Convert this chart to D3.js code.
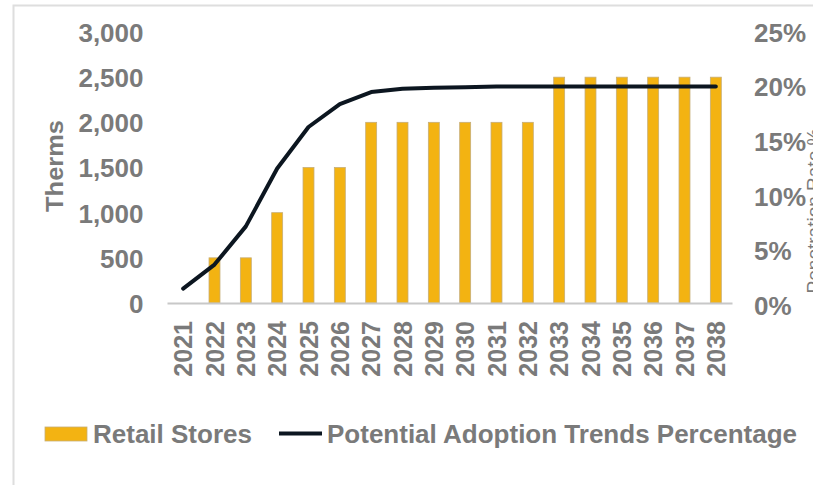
<!DOCTYPE html>
<html>
<head>
<meta charset="utf-8">
<script src="https://cdn.jsdelivr.net/npm/d3@7"></script>
<style>
  html, body { margin: 0; padding: 0; background: #fff; }
  svg { display: block; font-family: "Liberation Sans", Arial, sans-serif; font-weight: bold; }
</style>
</head>
<body>
<svg id="chart" width="813" height="485"></svg>
<script>
// Years on the category axis
const years = ["2021","2022","2023","2024","2025","2026","2027","2028","2029",
               "2030","2031","2032","2033","2034","2035","2036","2037","2038"];
// Retail Stores (therms)
const retailStores = [0, 500, 500, 1000, 1500, 1500, 2000, 2000, 2000,
                      2000, 2000, 2000, 2500, 2500, 2500, 2500, 2500, 2500];
// Potential Adoption Trends Percentage (%)
const adoptionPct = [1.5, 3.7, 7.2, 12.5, 16.3, 18.4, 19.5, 19.8, 19.9,
                     19.95, 20, 20, 20, 20, 20, 20, 20, 20];
// Axis ticks
const leftTicks = [0, 500, 1000, 1500, 2000, 2500, 3000];
const rightTicks = [0, 5, 10, 15, 20, 25];

const svg = d3.select("#chart");
const textColor = "#7a7a7a";
const barFill = "#F3B312";
const barStroke = "#c6ae78";
const lineColor = "#0c1620";

// frame
svg.append("path")
  .attr("d", "M13.5,485 L13.5,5.5 L813,5.5")
  .attr("fill", "none").attr("stroke", "#dedede").attr("stroke-width", 2);

const plot = { left: 167.5, right: 731.5, top: 32, bottom: 303 };

const x = d3.scaleBand().domain(years).range([plot.left, plot.right])
  .paddingInner(0.65).paddingOuter(0.325);
const yL = d3.scaleLinear().domain([0, 3000]).range([plot.bottom, plot.top]);
const yR = d3.scaleLinear().domain([0, 25]).range([plot.bottom + 2, plot.top]);

function styleLabels(sel, size) {
  sel.attr("fill", textColor)
    .style("font-size", size + "px").style("font-weight", "bold")
    .style("font-family", "Liberation Sans, Arial, sans-serif");
}

// bars
svg.append("g").selectAll("rect").data(years).join("rect")
  .attr("x", d => x(d))
  .attr("width", x.bandwidth())
  .attr("y", (d, i) => yL(retailStores[i]))
  .attr("height", (d, i) => yL(0) - yL(retailStores[i]))
  .attr("fill", barFill)
  .attr("stroke", barStroke)
  .attr("stroke-width", 0.8);

// category axis line
svg.append("line")
  .attr("x1", plot.left).attr("x2", plot.right + 1)
  .attr("y1", plot.bottom + 0.5).attr("y2", plot.bottom + 0.5)
  .attr("stroke", "#c8c8c8").attr("stroke-width", 2);

// category labels (vertical)
const xAxis = svg.append("g").attr("transform", `translate(0,${plot.bottom})`)
  .call(d3.axisBottom(x).tickSize(0).tickPadding(0));
xAxis.select(".domain").remove();
xAxis.selectAll("text")
  .attr("transform", "rotate(-90)")
  .attr("x", -18).attr("y", 0).attr("dy", "0.36em")
  .attr("text-anchor", "end")
  .call(styleLabels, 25);

// left value axis
const left = svg.append("g").attr("transform", `translate(${plot.left},0)`)
  .call(d3.axisLeft(yL).tickValues(leftTicks).tickSize(0).tickFormat(d3.format(",")));
left.select(".domain").remove();
left.selectAll("text")
  .attr("x", -24).attr("dy", "0.36em")
  .call(styleLabels, 26);

// right percentage axis
const right = svg.append("g").attr("transform", `translate(${plot.right},0)`)
  .call(d3.axisRight(yR).tickValues(rightTicks).tickSize(0).tickFormat(d => d + "%"));
right.select(".domain").remove();
right.selectAll("text")
  .attr("x", 22.5).attr("dy", "0.36em")
  .call(styleLabels, 26);

// axis titles
svg.append("text")
  .attr("transform", `translate(63,166) rotate(-90)`)
  .attr("text-anchor", "middle")
  .attr("fill", textColor)
  .attr("textLength", 92).attr("lengthAdjust", "spacingAndGlyphs")
  .style("font-size", "23px")
  .text("Therms");

svg.append("text")
  .attr("transform", `translate(820,211) rotate(-90)`)
  .attr("text-anchor", "middle")
  .attr("fill", textColor)
  .style("font-size", "19px")
  .style("font-weight", "normal")
  .text("Penetration Rate %");

// adoption line on the percentage scale
const line = d3.line()
  .x((d, i) => x(years[i]) + x.bandwidth() / 2)
  .y(d => yR(d));
svg.append("path")
  .datum(adoptionPct)
  .attr("d", line)
  .attr("fill", "none")
  .attr("stroke", lineColor)
  .attr("stroke-width", 4)
  .attr("stroke-linecap", "round")
  .attr("stroke-linejoin", "round");

// legend
const lg = svg.append("g");
lg.append("rect").attr("x", 45).attr("y", 427).attr("width", 42).attr("height", 14)
  .attr("fill", barFill).attr("stroke", barStroke).attr("stroke-width", 0.8);
lg.append("text").attr("x", 93).attr("y", 443).attr("fill", textColor)
  .style("font-size", "26px").text("Retail Stores");
lg.append("line").attr("x1", 279).attr("x2", 322).attr("y1", 433.5).attr("y2", 433.5)
  .attr("stroke", lineColor).attr("stroke-width", 4);
lg.append("text").attr("x", 327).attr("y", 443).attr("fill", textColor)
  .style("font-size", "26px").text("Potential Adoption Trends Percentage");
</script>
</body>
</html>
